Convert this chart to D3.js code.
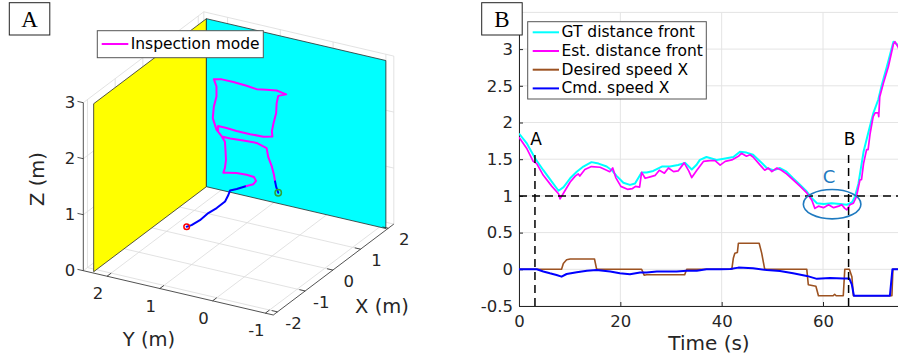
<!DOCTYPE html>
<html>
<head>
<meta charset="utf-8">
<script src="https://cdn.jsdelivr.net/npm/d3@7"></script>
<style>
  body { margin: 0; background: #fff; }
  text { font-family: "DejaVu Sans", sans-serif; }
</style>
</head>
<body>
<svg id="fig" width="898" height="356"></svg>
<script>
// ---------------- panel B data (time in s) ----------------
var gtTime = [0,1.5,3.2,4.8,6.5,7.8,8.8,10.1,11.4,12.7,14.3,15.7,17.3,18.3,19.3,20.6,21.9,22.9,24.2,25.2,
  26.5,28.2,29.8,31.4,32.8,34.1,35,35.7,37,39,40.7,42.3,43.6,44.9,46.2,47.6,48.9,50.2,51.5,52.8,
  54.1,55.5,56.8,57.8,58.8,60.1,61.7,63.4,64.7,65.7,66.3,67,68,68.9,69.9,70.9,71.6,72.6,73.9,74.7,75]
var gtDist = [1.85,1.72,1.51,1.35,1.19,1.07,1.12,1.24,1.33,1.40,1.46,1.44,1.40,1.35,1.27,1.18,1.15,1.17,1.32,1.32,
  1.34,1.40,1.40,1.42,1.45,1.36,1.42,1.49,1.53,1.49,1.51,1.53,1.60,1.59,1.56,1.47,1.38,1.35,1.38,1.33,
  1.24,1.15,1.06,0.97,0.90,0.89,0.90,0.89,0.88,0.91,0.99,1.17,1.60,1.85,2.12,2.31,2.51,2.76,3.10,3.06,3.04]

var estTime = [0,1.5,2.8,3.5,4.8,6.5,7.8,8.1,8.8,10.1,11.1,11.7,12,13,14.3,16,17.3,17.9,18.5,19.1,
  20.1,21.4,22.4,23,23.8,24.2,24.9,25.9,26.9,27.7,28.7,29.5,30.5,31.4,32.6,33.5,34.1,35.1,36.4,37.7,
  38.7,39.7,40.7,42,43.3,43.9,44.9,45.6,46.2,47.6,48.5,49.2,49.9,50.9,51.8,52.8,54.1,55.5,56.8,57.8,
  58.4,59.1,60.1,61.1,62.1,63.1,63.7,64.3,64.7,65.3,66,66.6,67.3,67.6,68,68.6,68.9,69.3,69.9,70.3,
  70.9,71,71.2,71.9,72.9,73.9,74.2,74.8,75]
var estDist = [1.80,1.65,1.47,1.44,1.28,1.13,1.03,0.96,1.04,1.19,1.27,1.30,1.27,1.36,1.40,1.39,1.35,1.33,1.38,1.25,
  1.13,1.09,1.10,1.13,1.12,1.32,1.24,1.26,1.28,1.35,1.31,1.38,1.33,1.34,1.45,1.34,1.25,1.35,1.47,1.48,
  1.48,1.42,1.47,1.49,1.54,1.58,1.54,1.56,1.53,1.42,1.35,1.38,1.33,1.38,1.35,1.30,1.22,1.13,1.04,0.94,
  0.83,0.86,0.84,0.88,0.84,0.86,0.88,0.83,0.81,0.88,0.90,0.99,1.22,1.22,1.44,1.63,1.63,1.85,2.08,2.13,
  2.13,2.08,2.35,2.53,2.76,3.07,3.10,3.03,3.0]

var desTime = [0,8.4,8.75,9.4,10.1,14.9,15.3,15.5,24.2,24.7,25.2,32.7,33.1,42.0,42.3,42.6,43.1,43.3,47.4,47.9,
  48.5,56.8,57.1,58.6,59.1,62.0,62.3,62.6,64.0,64.3,65.2,65.7,66.0,73.6,73.8,75]
var desSpeed = [0,0,0.08,0.13,0.14,0.14,0.01,0,0,-0.08,-0.075,-0.075,0,0,0.15,0.22,0.23,0.355,0.355,0.22,
  0,0,-0.21,-0.23,-0.36,-0.36,-0.34,-0.36,-0.36,0,0,-0.1,-0.36,-0.36,0,0]

var cmdTime = [0,3.5,4.8,6.1,7.4,8.4,9.4,11.4,13.4,15.3,18,19.9,21.9,23.9,25.2,27.2,29.1,31.1,33.1,35.1,
  37,39.7,41.7,43.3,46.2,48.9,51.5,54.1,56.8,58.8,61.4,64,65.2,65.7,66.1,73.2,73.7,75]
var cmdSpeed = [0,0,-0.03,-0.055,-0.077,-0.10,-0.064,-0.04,-0.02,-0.01,-0.03,-0.055,-0.068,-0.045,-0.045,-0.03,-0.03,-0.03,-0.02,-0.02,
  0,0,0.005,0.023,0.014,-0.01,-0.023,-0.055,-0.09,-0.13,-0.12,-0.127,-0.127,-0.21,-0.36,-0.36,0,0]

var bXTicks = [0,20,40,60]
var bYTicks = [-0.5,0,0.5,1,1.5,2,2.5,3]
var bYGrid  = [-0.5,0,0.5,1,1.5,2,2.5,3,3.5]
var bLegend = ["GT distance front","Est. distance front","Desired speed X","Cmd. speed X"]
var bColors = ["#00ffff","#ff00ff","#9c5221","#0000ff"]

// ---------------- panel A data (metres) ----------------
var xLim = [-2.15,2.2], yLim = [-1.15,2.45], zLim = [0,3]
var aXTicks = [-2,-1,0,1,2], aYTicks = [-1,0,1,2], aZTicks = [0,1,2,3]
var wallYellowY = 2.28, wallCyanX = 1.97
var pathX = [-0.4,-0.3,-0.15,0,0.15,0.3,0.4,0.5,0.55,
  0.6,0.6,0.6,0.6,0.6,0.6,0.6,0.6,0.6,0.6,0.6,0.6,0.6,0.6,0.6,0.6,0.6,0.6,0.6,0.6,
  0.6,0.6,0.6,0.6,0.6,0.6,0.6,0.6,0.6,0.6,0.6,0.6,0.6,0.6,0.6,0.6,0.6,0.6,0.6,0.6,
  0.6,0.6,0.6,0.6,0.6,0.6,0.6,0.6,0.6]
var pathY = [1.41,1.37,1.29,1.21,1.13,1.05,1.04,1.06,0.96,
  0.80,0.67,0.62,0.66,0.80,0.99,1.15,1.24,1.21,1.19,1.20,1.21,1.27,1.37,1.44,1.42,1.37,1.37,1.42,1.27,
  1.05,0.80,0.61,0.42,0.23,0.05,0.20,0.23,0.24,0.29,0.32,0.31,0.48,0.73,0.99,1.18,1.34,1.34,1.27,1.11,
  0.86,0.61,0.42,0.39,0.32,0.28,0.26,0.24,0.20]
var pathZ = [0.36,0.36,0.41,0.50,0.55,0.63,0.71,0.75,0.78,
  0.85,0.91,0.98,1.04,1.05,1.04,1.01,0.99,1.08,1.23,1.41,1.55,1.63,1.73,1.92,2.13,2.32,2.50,2.62,2.65,
  2.65,2.64,2.62,2.65,2.68,2.65,2.59,2.45,2.27,2.08,1.93,1.84,1.80,1.79,1.79,1.80,1.80,1.70,1.63,1.63,
  1.65,1.66,1.61,1.46,1.30,1.16,1.05,0.96,0.86]
var inspectFrom = 9, inspectTo = 55

var svg = d3.select("#fig")
var ink = "#262626"

// =============== panel B ===============
var bx = d3.scaleLinear().domain([0,75]).range([519,899])
var by = d3.scaleLinear().domain([-0.5,3.5]).range([306,12.4])
var gB = svg.append("g")

gB.append("defs").append("clipPath").attr("id","clipB")
  .append("rect").attr("x",519).attr("y",0).attr("width",380).attr("height",306)

gB.selectAll(".gridy").data(bYGrid).enter().append("line")
  .attr("x1",bx(0)).attr("x2",bx(75)).attr("y1",d=>by(d)).attr("y2",d=>by(d))
  .attr("stroke","#e4e4e4").attr("stroke-width",1)
gB.selectAll(".gridx").data(bXTicks).enter().append("line")
  .attr("x1",d=>bx(d)).attr("x2",d=>bx(d)).attr("y1",by(-0.5)).attr("y2",by(3.5))
  .attr("stroke","#e4e4e4").attr("stroke-width",1)

var yAxisB = gB.append("g").attr("transform","translate(519,0)")
  .call(d3.axisLeft(by).tickValues(bYTicks).tickSize(-4).tickSizeOuter(0).tickPadding(6).tickFormat(d3.format("")))
var xAxisB = gB.append("g").attr("transform","translate(0,306)")
  .call(d3.axisBottom(bx).tickValues(bXTicks).tickSize(-4).tickSizeOuter(0).tickPadding(9))
;[yAxisB, xAxisB].forEach(function(a){
  a.selectAll("text").attr("font-size",16.5).attr("fill",ink)
  a.selectAll("line").attr("stroke",ink)
  a.select(".domain").attr("stroke",ink)
})
yAxisB.selectAll("text").text(d => d < 0 ? "-" + Math.abs(d) : d)

gB.append("text").attr("x",709).attr("y",350).attr("text-anchor","middle")
  .attr("font-size",20).attr("fill",ink).text("Time (s)")

var lineB = d3.line().x(d=>bx(d[0])).y(d=>by(d[1]))
var series = [[gtTime,gtDist,2],[estTime,estDist,1.7],[desTime,desSpeed,1.6],[cmdTime,cmdSpeed,2]]
var plotB = gB.append("g").attr("clip-path","url(#clipB)")
series.forEach(function(s,i){
  plotB.append("path").datum(d3.zip(s[0],s[1])).attr("d",lineB)
    .attr("fill","none").attr("stroke",bColors[i]).attr("stroke-width",s[2]).attr("stroke-linejoin","round")
})

// dashed references
plotB.append("line").attr("x1",bx(0)).attr("x2",bx(75)).attr("y1",by(1)).attr("y2",by(1))
  .attr("stroke","#000").attr("stroke-width",1.5).attr("stroke-dasharray","8,5")
;[[3.15,"A"],[65.05,"B"]].forEach(function(m){
  gB.append("line").attr("x1",bx(m[0])).attr("x2",bx(m[0])).attr("y1",by(-0.5)).attr("y2",by(1.56))
    .attr("stroke","#000").attr("stroke-width",1.5).attr("stroke-dasharray","8,5")
  gB.append("text").attr("x",bx(m[0])+1).attr("y",by(1.69)).attr("text-anchor","middle")
    .attr("font-size",17).attr("fill","#000").text(m[1])
})
gB.append("ellipse").attr("cx",bx(61.8)).attr("cy",by(0.887))
  .attr("rx",bx(61.8+5.68)-bx(61.8)).attr("ry",by(0.887-0.2)-by(0.887))
  .attr("fill","none").attr("stroke","#1f7ac0").attr("stroke-width",1.6)
gB.append("text").attr("x",bx(61.2)).attr("y",by(1.17)).attr("text-anchor","middle")
  .attr("font-size",18).attr("fill","#1f7ac0").text("C")

// legend B
var lgB = gB.append("g")
lgB.append("rect").attr("x",527.7).attr("y",21.7).attr("width",178.6).attr("height",77.3)
  .attr("fill","#fff").attr("stroke","#555").attr("stroke-width",1)
bLegend.forEach(function(name,i){
  var yy = 32.3 + i*18.7
  lgB.append("line").attr("x1",532.7).attr("x2",559).attr("y1",yy).attr("y2",yy)
    .attr("stroke",bColors[i]).attr("stroke-width",2)
  lgB.append("text").attr("x",561.5).attr("y",yy).attr("dominant-baseline","central")
    .attr("font-size",15.5).attr("fill","#000").text(name)
})

// =============== panel A ===============
var origin = [273.3,315]          // screen point of (xmin, ymin, 0)
var spanX = [120.5,-90.9], spanY = [-190,-44.3], spanZ = [0,-168]
var kx = d3.scaleLinear().domain(xLim).range([0,1])
var ky = d3.scaleLinear().domain(yLim).range([0,1])
var kz = d3.scaleLinear().domain(zLim).range([0,1])
function proj(x,y,z){
  return [origin[0] + kx(x)*spanX[0] + ky(y)*spanY[0] + kz(z)*spanZ[0],
          origin[1] + kx(x)*spanX[1] + ky(y)*spanY[1] + kz(z)*spanZ[1]]
}
var gA = svg.append("g")
var seg3 = function(a,b,col,w){
  var p = proj(a[0],a[1],a[2]), q = proj(b[0],b[1],b[2])
  return gA.append("line").attr("x1",p[0]).attr("y1",p[1]).attr("x2",q[0]).attr("y2",q[1])
    .attr("stroke",col).attr("stroke-width",w)
}
var gridCol = "#dadada"
var x0 = xLim[0], x1 = xLim[1], y0 = yLim[0], y1 = yLim[1], z1 = zLim[1]
aXTicks.forEach(function(x){
  seg3([x,y0,0],[x,y1,0],gridCol,0.8)
  seg3([x,y1,0],[x,y1,z1],gridCol,0.8)
})
aYTicks.forEach(function(y){
  seg3([x0,y,0],[x1,y,0],gridCol,0.8)
  seg3([x1,y,0],[x1,y,z1],gridCol,0.8)
})
aZTicks.forEach(function(z){
  seg3([x0,y1,z],[x1,y1,z],gridCol,0.8)
  seg3([x1,y0,z],[x1,y1,z],gridCol,0.8)
})
seg3([x1,y1,0],[x1,y1,z1],gridCol,0.8)
seg3([x1,y0,0],[x1,y0,z1],gridCol,0.8)

var poly = function(pts,fill){
  gA.append("polygon").attr("points",pts.map(p=>proj(p[0],p[1],p[2]).join(",")).join(" "))
    .attr("fill",fill).attr("stroke","#2a2a2a").attr("stroke-width",0.8).attr("stroke-linejoin","round")
}
poly([[-2.1,wallYellowY,0],[wallCyanX,wallYellowY,0],[wallCyanX,wallYellowY,3],[-2.1,wallYellowY,3]],"#ffff00")
poly([[wallCyanX,wallYellowY,0],[wallCyanX,-1.12,0],[wallCyanX,-1.12,3],[wallCyanX,wallYellowY,3]],"#00ffff")

// axes lines and ticks
seg3([x0,y1,0],[x0,y1,z1],ink,0.8)
seg3([x0,y0,0],[x0,y1,0],ink,0.8)
seg3([x0,y0,0],[x1,y0,0],ink,0.8)
aZTicks.forEach(function(z){
  seg3([x0,y1,z],[x0,y1+0.11,z],ink,0.8)
  var p = proj(x0,y1,z)
  gA.append("text").attr("x",p[0]-8).attr("y",p[1]).attr("text-anchor","end")
    .attr("dominant-baseline","central").attr("font-size",16.5).attr("fill",ink).text(z)
})
aYTicks.forEach(function(y){
  seg3([x0,y,0],[x0+0.15,y,0],ink,0.8)
  var p = proj(x0,y,0)
  gA.append("text").attr("x",p[0]-9).attr("y",p[1]+17.5).attr("text-anchor","middle")
    .attr("dominant-baseline","central").attr("font-size",16.5).attr("fill",ink).text(y)
})
aXTicks.forEach(function(x){
  seg3([x,y0,0],[x,y0+0.11,0],ink,0.8)
  var p = proj(x,y0,0)
  gA.append("text").attr("x",p[0]+16).attr("y",p[1]+11.7).attr("text-anchor","middle")
    .attr("dominant-baseline","central").attr("font-size",16.5).attr("fill",ink).text(x)
})
gA.append("text").attr("transform","translate(37,179) rotate(-90)").attr("text-anchor","middle")
  .attr("dominant-baseline","central").attr("font-size",19.5).attr("fill",ink).text("Z (m)")
gA.append("text").attr("x",149).attr("y",339).attr("text-anchor","middle")
  .attr("dominant-baseline","central").attr("font-size",19.5).attr("fill",ink).text("Y (m)")
gA.append("text").attr("x",382).attr("y",306.7).attr("text-anchor","middle")
  .attr("dominant-baseline","central").attr("font-size",19.5).attr("fill",ink).text("X (m)")

// trajectory
var pts = d3.range(pathX.length).map(i => proj(pathX[i],pathY[i],pathZ[i]))
var lineA = d3.line()
var drawPart = function(a,b,col){
  gA.append("path").datum(pts.slice(a,b+1)).attr("d",lineA).attr("fill","none")
    .attr("stroke",col).attr("stroke-width",2).attr("stroke-linejoin","round").attr("stroke-linecap","round")
}
drawPart(0,inspectFrom,"#0000ff")
drawPart(inspectFrom,inspectTo,"#ff00ff")
drawPart(inspectTo,pts.length-1,"#0000ff")
gA.append("circle").attr("cx",pts[0][0]).attr("cy",pts[0][1]).attr("r",2.8)
  .attr("fill","none").attr("stroke","#ff0000").attr("stroke-width",1.5)
gA.append("circle").attr("cx",pts[pts.length-1][0]).attr("cy",pts[pts.length-1][1]).attr("r",3.2)
  .attr("fill","none").attr("stroke","#33a033").attr("stroke-width",1.5)

// legend A
gA.append("rect").attr("x",97.3).attr("y",30.7).attr("width",166).attr("height",27)
  .attr("fill","#fff").attr("stroke","#555").attr("stroke-width",1)
gA.append("line").attr("x1",101.7).attr("x2",128.3).attr("y1",44).attr("y2",44)
  .attr("stroke","#ff00ff").attr("stroke-width",2)
gA.append("text").attr("x",130.7).attr("y",44).attr("dominant-baseline","central")
  .attr("font-size",15.5).attr("fill","#000").text("Inspection mode")

// panel letters (serif, like the LaTeX labels)
;[[9.3,"A"],[481.7,"B"]].forEach(function(p){
  svg.append("rect").attr("x",p[0]).attr("y",2.7).attr("width",40.5).attr("height",32.3)
    .attr("fill","#fff").attr("stroke","#222").attr("stroke-width",1)
  svg.append("text").attr("x",p[0]+20.3).attr("y",27).attr("text-anchor","middle")
    .style("font-family","'Liberation Serif', serif").attr("font-size",23).attr("fill","#000").text(p[1])
})
</script>
</body>
</html>
